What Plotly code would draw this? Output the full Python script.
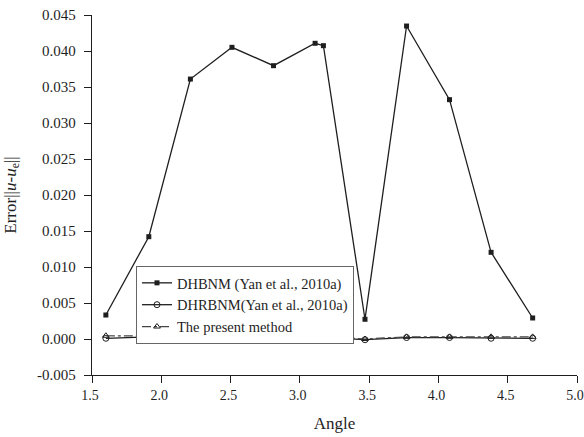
import plotly.graph_objects as go

# Sampling angles (rad)
angle = [1.60, 1.91, 2.21, 2.51, 2.81, 3.11, 3.17, 3.47, 3.77, 4.08, 4.38, 4.68]

# Error norms ||u - u_e|| for each method
err_dhbnm = [0.00333, 0.01421, 0.03610, 0.04051, 0.03796, 0.04107, 0.04074,
             0.00274, 0.04347, 0.03324, 0.01204, 0.00292]
err_dhrbnm = [0.0001, 0.0003, 0.0003, 0.0003, 0.0002, 0.0002, 0.0002,
              -0.0001, 0.0002, 0.0002, 0.0001, 0.0001]
err_present = [0.00045, 0.0004, 0.0004, 0.0004, 0.0003, 0.0003, 0.0003,
               0.0000, 0.0003, 0.0003, 0.0003, 0.0003]

# Axis ticks
x_ticks = [1.5, 2.0, 2.5, 3.0, 3.5, 4.0, 4.5, 5.0]
x_ticklabels = ["1.5", "2.0", "2.5", "3.0", "3.5", "4.0", "4.5", "5.0"]
y_ticks = [-0.005, 0.0, 0.005, 0.010, 0.015, 0.020, 0.025, 0.030, 0.035, 0.040, 0.045]
y_ticklabels = ["-0.005", "0.000", "0.005", "0.010", "0.015", "0.020",
                "0.025", "0.030", "0.035", "0.040", "0.045"]

FONT = "Liberation Serif"
INK = "#1e1e1e"

fig = go.Figure()
fig.add_trace(go.Scatter(
    x=angle, y=err_dhbnm, mode="lines+markers",
    name="DHBNM (Yan et al., 2010a)",
    line=dict(color=INK, width=1.3),
    marker=dict(symbol="square", size=5, color=INK),
))
fig.add_trace(go.Scatter(
    x=angle, y=err_dhrbnm, mode="lines+markers",
    name="DHRBNM(Yan et al., 2010a)",
    line=dict(color=INK, width=1.3),
    marker=dict(symbol="circle-open", size=6, color=INK, line=dict(width=1)),
))
fig.add_trace(go.Scatter(
    x=angle, y=err_present, mode="lines+markers",
    name="The present method",
    line=dict(color="#444444", width=1.2, dash="dashdot"),
    marker=dict(symbol="triangle-up-open", size=6, color=INK, line=dict(width=1)),
))

axis_common = dict(
    showline=True, linecolor=INK, linewidth=1.3,
    ticks="outside", ticklen=7, tickwidth=1.3, tickcolor=INK,
    showgrid=False, zeroline=False, mirror=False,
    automargin=False,
    ticklabeloverflow="allow",
)

fig.update_layout(
    width=584, height=437,
    margin=dict(l=92, r=7, t=15, b=62),
    paper_bgcolor="white", plot_bgcolor="white",
    font=dict(family=FONT, color=INK),
    xaxis=dict(
        range=[1.5, 5.0], tickvals=x_ticks, ticktext=x_ticklabels,
        tickfont=dict(family=FONT, size=14, color=INK),
        ticklabelshift=-2,
        title=dict(text="Angle", font=dict(family=FONT, size=17, color=INK), standoff=15),
        **axis_common,
    ),
    yaxis=dict(
        range=[-0.005, 0.045], tickvals=y_ticks, ticktext=y_ticklabels,
        tickfont=dict(family=FONT, size=15, color=INK),
        ticklabelstandoff=5,
        title=dict(text="Error||<i>u</i>-<i>u</i><sub>e</sub>||",
                   font=dict(family=FONT, size=17, color=INK), standoff=16),
        **axis_common,
    ),
    legend=dict(
        x=0.0907, y=0.303, xanchor="left", yanchor="top",
        bgcolor="white", bordercolor="#666666", borderwidth=1,
        font=dict(family=FONT, size=14.5, color=INK),
        tracegroupgap=0,
    ),
    showlegend=True,
)

fig.write_html("out.html")
